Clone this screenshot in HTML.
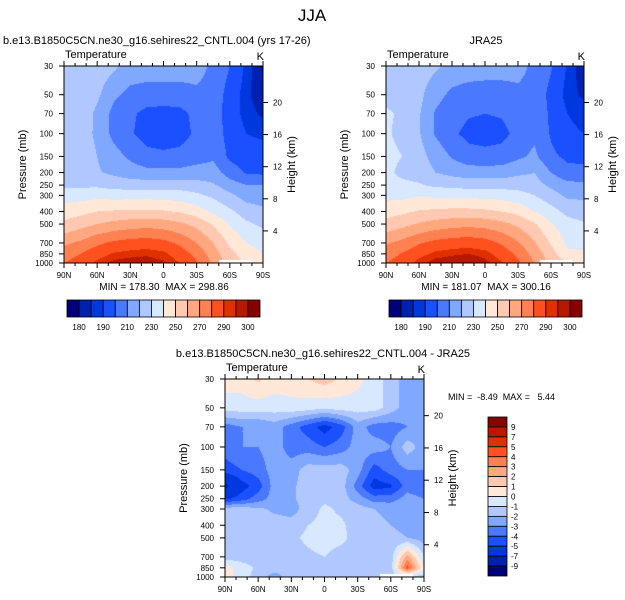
<!DOCTYPE html>
<html><head><meta charset="utf-8">
<style>
body{margin:0;background:#fff;}
#wrap{position:relative;width:625px;height:600px;overflow:hidden;background:#fff;font-family:"Liberation Sans",sans-serif;}
canvas{position:absolute;}
svg{position:absolute;left:0;top:0;}
</style></head>
<body>
<div id="wrap">
<svg id="ov" width="625" height="600"></svg>
</div>
<script>
// ---- data ----
const lats = [90,75,60,45,30,15,0,-15,-30,-45,-60,-75,-90];
const levels = [30,50,70,100,150,200,250,300,400,500,700,850,1000];
const latTicks = ["90N","60N","30N","0","30S","60S","90S"];
const presTicks = [30,50,70,100,150,200,250,300,400,500,700,850,1000];
const heightTicks = [4,8,12,16,20];
const tempBounds = [180,185,190,200,210,220,230,240,250,260,270,280,290,295,300];
const tempLabels = ["180","190","210","230","250","270","290","300"];
const diffBounds = [-9,-7,-5,-4,-3,-2,-1,0,1,2,3,4,5,7,9];
const diffLabels = ["9","7","5","4","3","2","1","0","-1","-2","-3","-4","-5","-7","-9"];
const colors = ["#00007a","#0020b0","#0038e0","#1a50ff","#4a78ff","#80a8ff","#b0c8ff","#d8e8ff","#ffe8d8","#ffc8b0","#ffa880","#ff8050","#ff5020","#e03000","#b81800","#880000"];
const cntl = [
[227,227,226,222,216,215,215,215,214,208,200,188,179],
[228,227,222,212,207,206,206,206,208,206,196,186,182],
[228,226,218,207,202,197,196,197,203,205,195,187,184],
[228,225,218,207,201,196,195,196,202,206,196,190,188],
[228,226,220,214,208,203,202,203,206,208,198,195,195],
[225,222,221,218,215,213,213,213,214,215,205,199,198],
[228,228,228,226,225,225,225,225,224,221,215,210,210],
[235,236,237,236,236,236,236,235,232,228,222,216,215],
[245,247,250,251,252,252,251,249,245,238,232,225,222],
[252,256,260,263,265,266,265,262,257,249,239,232,228],
[268,272,278,282,284,285,283,278,270,260,248,240,236],
[275,280,286,291,293,294,292,285,277,265,253,245,240],
[280,285,292,297,298,298,296,290,281,268,255,250,245]];
const jra = [
[226,226,225,222,216,215,214,214,213,208,201,189,181],
[228,227,223,213,208,206,206,206,208,207,197,187,184],
[231,229,221,209,205,201,200,201,205,208,198,190,187],
[231,228,221,209,202,197,196,197,203,208,199,192,190],
[232,230,224,216,209,204,203,204,208,212,202,198,198],
[232,228,226,220,217,215,215,215,218,220,210,203,202],
[233,232,231,228,227,226,226,226,226,224,218,213,213],
[237,237,239,238,238,237,237,236,234,230,224,218,218],
[246,248,251,252,253,253,252,250,247,240,234,227,225],
[253,257,261,264,266,267,266,263,258,251,241,234,231],
[269,273,279,283,285,286,284,279,271,261,249,238,238],
[275,281,287,292,294,295,293,286,278,266,254,242,241],
[280,285,293,298,299,300,297,291,282,270,257,251,247]];
const diff = [
[0.5,0.5,1.2,0.5,0.5,1,1.5,0.8,0.3,-0.5,-1.5,-2.5,-2.5],
[-0.5,-0.5,-0.5,-0.5,-0.3,-0.5,-0.8,-0.5,-0.5,-0.5,-1.5,-2.5,-2.5],
[-3.5,-3,-3,-2.5,-3.5,-4.5,-5.5,-4.5,-2.5,-3.5,-3.5,-3,-2.5],
[-3.5,-3,-3,-2.5,-3.5,-3.5,-4,-3.5,-2.5,-2.5,-3,-1.5,-2.5],
[-4.5,-4,-3.5,-2.5,-2.5,-1.5,-1.5,-1.5,-2.5,-4.5,-3.5,-3,-3],
[-7.5,-5.5,-4.5,-2.5,-2.2,-1.5,-1.5,-1.5,-3.5,-5.5,-5.2,-3.5,-4],
[-5.2,-4.5,-3.5,-2.5,-2.2,-1.5,-1.2,-1.5,-2.5,-3.5,-3.5,-2.5,-3],
[-1.5,-1.5,-1.8,-2.2,-2.5,-1.5,-0.8,-1.2,-1.5,-2,-2.2,-2.2,-2.5],
[-1.5,-1.5,-1.5,-1.5,-1.5,-1,-0.7,-0.8,-1.5,-1.8,-2,-2.2,-2.5],
[-1.5,-1.5,-1.5,-1.2,-1.2,-0.8,-0.5,-0.7,-1.5,-1.5,-1.8,-2,-2.5],
[-1.5,-1.5,-1.5,-1.5,-1.5,-1.2,-1.0,-1.5,-1.5,-1.2,-1.5,2.5,-1],
[0.5,-0.5,-1.2,-1.5,-1.5,-1.2,-1.2,-1.5,-1.2,-1.2,-1.5,4.5,0],
[0.5,-0.5,-1.5,-2.5,-1.5,-1.5,-1.5,-1.5,-1.5,-1.5,-1.5,-1.5,-1.5]];

const NS="http://www.w3.org/2000/svg";
const ov=document.getElementById('ov');
const wrap=document.getElementById('wrap');
function el(tag,attrs,parent){const e=document.createElementNS(NS,tag);for(const k in attrs)e.setAttribute(k,attrs[k]);(parent||ov).appendChild(e);return e;}
function txt(x,y,s,size,anchor,name,extra){const t=el('text',Object.assign({x:x,y:y,'font-size':size,'text-anchor':anchor||'start','font-family':'Liberation Sans, sans-serif',fill:'#000'},extra||{}));t.textContent=s;


return t;}

const L30=Math.log(30),LR=Math.log(1000/30);
function yOfP(P,p){return P.y+(Math.log(p)-L30)/LR*P.h;}
function xOfLat(P,lat){return P.x+(90-lat)/180*P.w;}
function hex(c){return [parseInt(c.substr(1,2),16),parseInt(c.substr(3,2),16),parseInt(c.substr(5,2),16)];}
const rgb=colors.map(hex);
function binOf(v,b){let i=0;while(i<b.length&&v>=b[i])i++;return i;}

function field(P,data,bounds,name){
  const c=document.createElement('canvas');
  c.width=P.w;c.height=P.h;c.style.left=P.x+'px';c.style.top=P.y+'px';
  
  
  wrap.insertBefore(c,ov);
  const ctx=c.getContext('2d');const img=ctx.createImageData(P.w,P.h);
  const logL=levels.map(Math.log);
  for(let j=0;j<P.h;j++){
    const lp=L30+(j+0.5)/P.h*LR;
    let k=0;while(k<levels.length-2&&lp>logL[k+1])k++;
    const fy=Math.min(1,Math.max(0,(lp-logL[k])/(logL[k+1]-logL[k])));
    for(let i=0;i<P.w;i++){
      const lat=90-(i+0.5)/P.w*180;
      let m=0;while(m<lats.length-2&&lat<lats[m+1])m++;
      const fx=Math.min(1,Math.max(0,(lats[m]-lat)/(lats[m]-lats[m+1])));
      const v=(data[k][m]*(1-fx)+data[k][m+1]*fx)*(1-fy)+(data[k+1][m]*(1-fx)+data[k+1][m+1]*fx)*fy;
      const col=rgb[binOf(v,bounds)];const o=(j*P.w+i)*4;
      img.data[o]=col[0];img.data[o+1]=col[1];img.data[o+2]=col[2];img.data[o+3]=255;
    }
  }
  ctx.putImageData(img,0,0);
  ctx.fillStyle='#fff';ctx.fillRect(Math.round((90+50)/180*P.w),P.h-3,Math.round(30/180*P.w),3);
}

function axes(P,pre){
  const g=el('g',{});
  
  
  el('rect',{x:P.x,y:P.y,width:P.w,height:P.h,fill:'none',stroke:'#000','stroke-width':1},g);
  latTicks.forEach((s,i)=>{
    const lat=90-i*30;const x=xOfLat(P,lat);
    el('line',{x1:x,x2:x,y1:P.y+P.h,y2:P.y+P.h+5,stroke:'#000'},g);
    el('line',{x1:x,x2:x,y1:P.y,y2:P.y-5,stroke:'#000'},g);
    txt(x,P.y+P.h+15,s,8,'middle',pre+'-lat-label');
  });
  for(let lat=80;lat>-90;lat-=10){if(lat%30===0)continue;const x=xOfLat(P,lat);
    el('line',{x1:x,x2:x,y1:P.y+P.h,y2:P.y+P.h+3,stroke:'#000'},g);
    el('line',{x1:x,x2:x,y1:P.y,y2:P.y-3,stroke:'#000'},g);}
  presTicks.forEach(p=>{const y=yOfP(P,p);
    el('line',{x1:P.x-5,x2:P.x,y1:y,y2:y,stroke:'#000'},g);
    txt(P.x-11,y+3,String(p),8,'end',pre+'-pressure-label');});
  heightTicks.forEach(z=>{const y=yOfP(P,1000*Math.exp(-z/7));
    el('line',{x1:P.x+P.w,x2:P.x+P.w+5,y1:y,y2:y,stroke:'#000'},g);
    txt(P.x+P.w+10,y+3,String(z),8,'start',pre+'-height-label');});
  const cy=P.y+P.h/2;
  txt(P.x-38,cy,'Pressure (mb)',11,'middle',pre+'-y-axis-title',{transform:`rotate(-90 ${P.x-38} ${cy})`});
  txt(P.x+P.w+32,cy,'Height (km)',11,'middle',pre+'-right-axis-title',{transform:`rotate(-90 ${P.x+P.w+32} ${cy})`});
  txt(P.x+1,P.y-8,'Temperature',11,'start',pre+'-variable-label');
  txt(P.x+P.w+1,P.y-6,'K',11,'end',pre+'-units-label');
}

function hbar(x,y,w,h,pre){
  const n=colors.length,bw=w/n;
  colors.forEach((c,i)=>{const r=el('rect',{x:x+i*bw,y:y,width:bw,height:h,fill:c,stroke:'#000','stroke-width':0.8});
    
    });
  tempLabels.forEach((s,k)=>{const b=2*k+1;txt(x+b*bw,y+h+13,s,8,'middle',pre+'-colorbar-label');});
}
function vbar(x,y,w,h){
  const n=colors.length,bh=h/n;
  colors.slice().reverse().forEach((c,i)=>{const r=el('rect',{x:x,y:y+i*bh,width:w,height:bh,fill:c,stroke:'#000','stroke-width':0.8});
    
    });
  diffLabels.forEach((s,i)=>txt(x+w+4,y+(i+1)*bh+3,s,8,'start','diff-colorbar-label'));
}

const P1={x:64,y:66,w:199,h:197},P2={x:386,y:66,w:198,h:197},P3={x:225,y:379,w:199,h:198};
field(P1,cntl,tempBounds,'model-temperature-field');
field(P2,jra,tempBounds,'jra25-temperature-field');
field(P3,diff,diffBounds,'difference-field');
axes(P1,'model');axes(P2,'jra25');axes(P3,'diff');
hbar(67,300,193,17,'model');hbar(389,300,193,17,'jra25');
vbar(488,417,19,159);
txt(312,21,'JJA',17,'middle','main-title');
txt(3,44,'b.e13.B1850C5CN.ne30_g16.sehires22_CNTL.004 (yrs 17-26)',11,'start','model-title');
txt(486,44,'JRA25',11,'middle','jra25-title');
txt(323,357,'b.e13.B1850C5CN.ne30_g16.sehires22_CNTL.004 - JRA25',11,'middle','diff-title');
txt(164,290,'MIN = 178.30  MAX = 298.86',10,'middle','model-minmax',{style:'white-space:pre'});
txt(486,290,'MIN = 181.07  MAX = 300.16',10,'middle','jra25-minmax',{style:'white-space:pre'});
txt(448,400,'MIN =  -8.49  MAX =   5.44',9,'start','diff-minmax',{style:'white-space:pre'});
</script>
</body></html>
